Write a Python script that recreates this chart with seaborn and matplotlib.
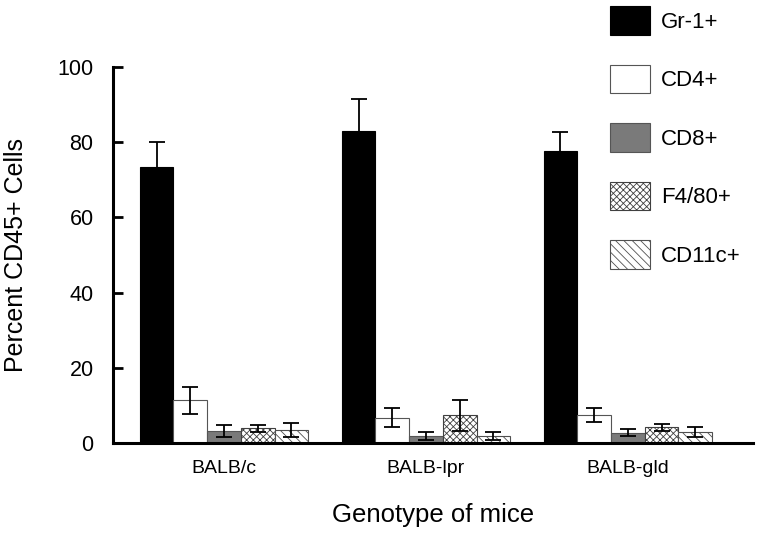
# Percent CD45+ cells by genotype of mice

import numpy as np
import pandas as pd
import matplotlib
matplotlib.use("Agg")
import matplotlib.pyplot as plt
import seaborn as sns

genotypes = ["BALB/c", "BALB-lpr", "BALB-gld"]
cell_types = ["Gr-1+", "CD4+", "CD8+", "F4/80+", "CD11c+"]

# mean values per cell type (order follows genotypes)
gr1 = [73.3, 83.0, 77.7]
cd4 = [11.4, 6.7, 7.5]
cd8 = [3.2, 1.9, 2.7]
f480 = [3.9, 7.4, 4.2]
cd11c = [3.5, 1.8, 2.9]

# error values
gr1_err = [6.8, 8.5, 5.0]
cd4_err = [3.6, 2.5, 1.9]
cd8_err = [1.6, 1.1, 0.9]
f480_err = [1.0, 4.1, 0.9]
cd11c_err = [1.8, 1.1, 1.3]

means = [gr1, cd4, cd8, f480, cd11c]
errs = [gr1_err, cd4_err, cd8_err, f480_err, cd11c_err]

df = pd.DataFrame({
    "genotype": genotypes * len(cell_types),
    "cell": np.repeat(cell_types, len(genotypes)),
    "value": np.concatenate(means),
})

sns.set_style("ticks")
plt.rcParams["font.family"] = ["Liberation Sans", "DejaVu Sans"]
plt.rcParams["hatch.linewidth"] = 0.6
plt.rcParams["text.color"] = "black"
plt.rcParams["xtick.color"] = "black"
plt.rcParams["ytick.color"] = "black"
plt.rcParams["axes.edgecolor"] = "black"

fig = plt.figure(figsize=(7.62, 5.39), dpi=100)
ax = fig.add_axes([113 / 762, 96 / 539, 640 / 762, 376 / 539])

sns.barplot(data=df, x="genotype", y="value", hue="cell", order=genotypes,
            hue_order=cell_types, errorbar=None, width=0.835, gap=0,
            legend=False, ax=ax)

styles = [
    dict(facecolor="black", edgecolor="black", hatch=None),
    dict(facecolor="white", edgecolor="#555555", hatch=None),
    dict(facecolor="#7a7a7a", edgecolor="#555555", hatch=None),
    dict(facecolor="white", edgecolor="#404040", hatch="xxxxx"),
    dict(facecolor="white", edgecolor="#505050", hatch="\\\\\\\\"),
]

for cont, st, err in zip(ax.containers, styles, errs):
    for bar, e in zip(cont, err):
        bar.set_facecolor(st["facecolor"])
        bar.set_edgecolor(st["edgecolor"])
        bar.set_linewidth(0.8)
        if st["hatch"]:
            bar.set_hatch(st["hatch"])
        xc = bar.get_x() + bar.get_width() / 2
        ax.errorbar(xc, bar.get_height(), yerr=e, color="black", lw=1.3,
                    capsize=6, capthick=1.3, zorder=5)

ax.set_xlim(-0.55, 2.62)
ax.set_ylim(0, 100)
ax.set_yticks([0, 20, 40, 60, 80, 100])
ax.tick_params(axis="y", direction="in", length=7, width=2, labelsize=15.5, pad=14)
ax.tick_params(axis="x", length=0, labelsize=14, pad=12)
sns.despine(ax=ax)
for s in ["left", "bottom"]:
    ax.spines[s].set_linewidth(2.2)

ax.set_xlabel("")
ax.set_ylabel("")
fig.text(16 / 762, 1 - 255 / 539, "Percent CD45+ Cells", rotation=90,
         fontsize=18, ha="center", va="center")
fig.text(433 / 762, 1 - 515 / 539, "Genotype of mice", fontsize=18.5,
         ha="center", va="center")

fig.legend(ax.containers, cell_types, loc="upper left",
           bbox_to_anchor=(610 / 762, 1 - 6 / 539), frameon=False,
           fontsize=16, handlelength=1.8, handleheight=1.6, labelspacing=1.35,
           handletextpad=0.5, borderpad=0, borderaxespad=0)

fig.savefig("out.png", dpi=100)
